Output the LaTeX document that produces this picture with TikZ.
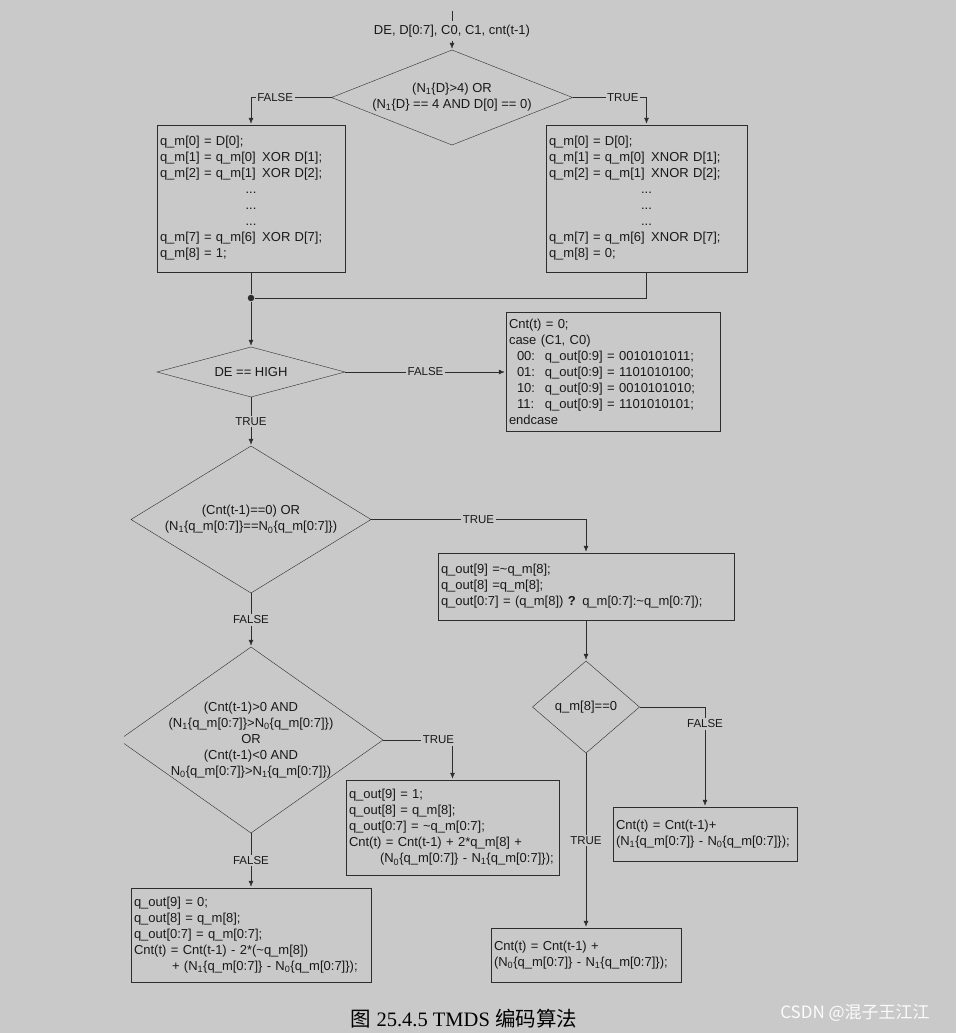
\documentclass[tikz,border=0pt]{standalone}
\usepackage{fontspec}
\setmainfont{Liberation Sans}
\newfontfamily\capfont{Liberation Serif}
\newfontfamily\cjk{Noto Sans CJK SC}
\usetikzlibrary{shapes.geometric,arrows.meta}
\definecolor{bggray}{RGB}{201,201,201}
\definecolor{ink}{RGB}{25,25,25}
\definecolor{wire}{RGB}{45,45,45}
\newcommand{\Nsub}[1]{N\textsubscript{#1}}
\newcommand{\qm}{q\_m}
\newcommand{\qo}{q\_out}

\begin{document}
\begin{tikzpicture}[x=1pt,y=-1pt,color=wire]
\tikzset{ >={Latex[length=7.5pt,width=6pt]}, line width=1.1pt,
  every node/.style={text=ink, font=\fontsize{13}{16}\selectfont},
  dia/.style={draw=wire, diamond, inner sep=0pt, outer sep=0pt},
  box/.style={draw=wire, rectangle, align=left, inner xsep=3pt, inner ysep=0pt, outer sep=0pt},
  lbl/.style={fill=bggray, inner sep=1.5pt, font=\fontsize{11.5}{13}\selectfont},
  dot/.style={circle, fill=wire, inner sep=0pt, minimum size=6.5pt},
}

\fill [bggray] (0,0) rectangle (956,1033);
\useasboundingbox (0,0) rectangle (956,1033);

% input
\coordinate (top) at (452,11);
\node (in) at (452,31) {DE, D[0:7], C0, C1, cnt(t-1)};

% first decision
\node [dia, minimum width=241pt, minimum height=95pt] (d1) at (452,97.5) {};
\node [align=center] (d1t) at (d1) {(\Nsub{1}\{D\}>4) OR\\(\Nsub{1}\{D\} == 4 AND D[0] == 0)};

\node [box, text width=182pt, minimum height=147pt] (b1) at (251,198.5) {%
\qm[0] = D[0];\\
\qm[1] = \qm[0]\, XOR D[1];\\
\qm[2] = \qm[1]\, XOR D[2];\\
\makebox[\hsize]{...}\\
\makebox[\hsize]{...}\\
\makebox[\hsize]{...}\\
\qm[7] = \qm[6]\, XOR D[7];\\
\qm[8] = 1;};

\node [box, text width=195pt, minimum height=147pt] (b2) at (646.5,198.5) {%
\qm[0] = D[0];\\
\qm[1] = \qm[0]\, XNOR D[1];\\
\qm[2] = \qm[1]\, XNOR D[2];\\
\makebox[\hsize]{...}\\
\makebox[\hsize]{...}\\
\makebox[\hsize]{...}\\
\qm[7] = \qm[6]\, XNOR D[7];\\
\qm[8] = 0;};

\node [dot] (jn) at (251,298) {};

% DE == HIGH
\node [dia, minimum width=188pt, minimum height=50pt] (d2) at (251,372) {};
\node (d2t) at (d2) {DE == HIGH};

\node [box, text width=208pt, minimum height=119pt] (bc) at (613,372) {%
Cnt(t) = 0;\\
case (C1, C0)\\
\hspace*{8pt}\makebox[28pt][l]{00:}\qo[0:9] = 0010101011;\\
\hspace*{8pt}\makebox[28pt][l]{01:}\qo[0:9] = 1101010100;\\
\hspace*{8pt}\makebox[28pt][l]{10:}\qo[0:9] = 0010101010;\\
\hspace*{8pt}\makebox[28pt][l]{11:}\qo[0:9] = 1101010101;\\
endcase};

% disparity checks
\node [dia, minimum width=240pt, minimum height=147pt] (d3) at (251,519.5) {};
\node [align=center] (d3t) at (d3) {(Cnt(t-1)==0) OR\\(\Nsub{1}\{\qm[0:7]\}==\Nsub{0}\{\qm[0:7]\})};

\node [box, text width=290pt, minimum height=67pt] (b3) at (586,586.5) {%
\qo[9] =\textasciitilde\qm[8];\\
\qo[8] =\qm[8];\\
\qo[0:7] = (\qm[8]) \textbf{?} \qm[0:7]:\textasciitilde\qm[0:7]);};

\begin{scope}
\clip (124,600) rectangle (420,900);
\node [dia, minimum width=264pt, minimum height=186pt] (d4) at (251,740) {};
\end{scope}
\node [align=center] (d4t) at (251,740) {(Cnt(t-1)>0 AND\\(\Nsub{1}\{\qm[0:7]\}>\Nsub{0}\{\qm[0:7]\})\\OR\\(Cnt(t-1)<0 AND\\\Nsub{0}\{\qm[0:7]\}>\Nsub{1}\{\qm[0:7]\})};

\node [box, text width=207pt, minimum height=95pt] (b4) at (452.5,827.5) {%
\qo[9] = 1;\\
\qo[8] = \qm[8];\\
\qo[0:7] = \textasciitilde\qm[0:7];\\
Cnt(t) = Cnt(t-1) + 2*\qm[8] +\\
\hspace*{31pt}(\Nsub{0}\{\qm[0:7]\} - \Nsub{1}\{\qm[0:7]\});};

\node [box, text width=234pt, minimum height=94pt] (b5) at (251,935) {%
\qo[9] = 0;\\
\qo[8] = \qm[8];\\
\qo[0:7] = \qm[0:7];\\
Cnt(t) = Cnt(t-1) - 2*(\textasciitilde\qm[8])\\
\hspace*{38pt}+ (\Nsub{1}\{\qm[0:7]\} - \Nsub{0}\{\qm[0:7]\});};

\node [dia, minimum width=107pt, minimum height=92pt] (d5) at (586,707) {};
\node (d5t) at (d5) {\qm[8]==0};

\node [box, text width=178pt, minimum height=54pt] (b6) at (705,834) {%
Cnt(t) = Cnt(t-1)+\\
(\Nsub{1}\{\qm[0:7]\} - \Nsub{0}\{\qm[0:7]\});};

\node [box, text width=184pt, minimum height=54pt] (b7) at (586,955) {%
Cnt(t) = Cnt(t-1) +\\
(\Nsub{0}\{\qm[0:7]\} - \Nsub{1}\{\qm[0:7]\});};

% connectors
\draw (top) -- (in.north);
\draw [->] (in.south) -- (d1.north);
\draw [->] (d1.west) -- node[lbl, pos=0.7] {FALSE} (d1.west -| b1.north) -- (b1.north);
\draw [->] (d1.east) -- node[lbl, pos=0.68] {TRUE} (d1.east -| b2.north) -- (b2.north);
\draw (b1.south) -- (jn);
\draw (b2.south) |- (jn);
\draw [->] (jn) -- (d2.north);
\draw [->] (d2.east) -- node[lbl] {FALSE} (bc.west);
\draw [->] (d2.south) -- node[lbl] {TRUE} (d3.north);
\draw [->] (d3.east) -- node[lbl] {TRUE} (d3.east -| b3.north) -- (b3.north);
\draw [->] (d3.south) -- node[lbl] {FALSE} (d4.north);
\draw [->] (d4.east) -| node[lbl, pos=0.5, xshift=-14pt] {TRUE} (b4.north);
\draw [->] (d4.south) -- node[lbl] {FALSE} (b5.north);
\draw [->] (b3.south) -- (d5.north);
\draw [->] (d5.east) -| node[lbl, pos=0.585] {FALSE} (b6.north);
\draw [->] (d5.south) -- node[lbl] {TRUE} (b7.north);

% caption
\node [text=black, font=\capfont\fontsize{20.5}{24}\selectfont] (cap) at (464,1019) {{\cjk 图} 25.4.5 TMDS {\cjk 编码算法}};
\node [text=white!94!bggray, font=\cjk\fontsize{17}{20}\selectfont] (wm) at (855,1013) {CSDN @混子王江江};

\end{tikzpicture}
\end{document}
